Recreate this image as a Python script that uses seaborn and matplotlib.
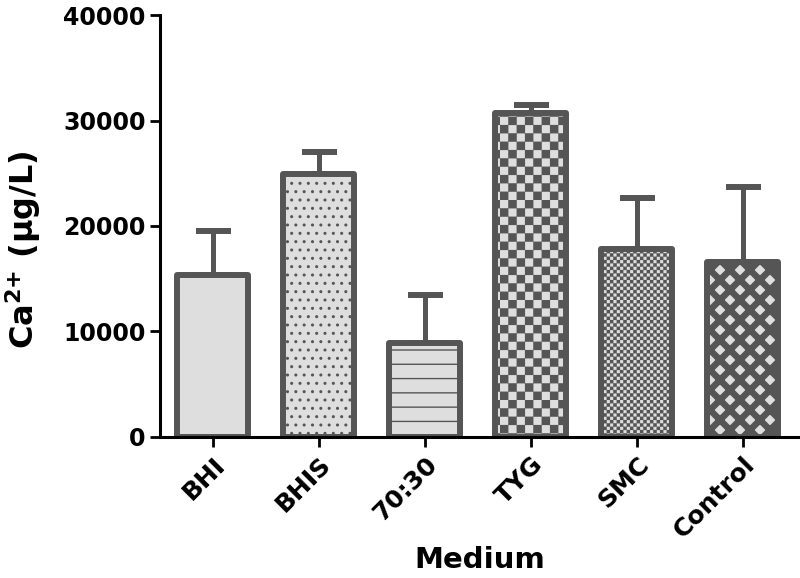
import warnings
import numpy as np
import pandas as pd
import matplotlib
matplotlib.use('Agg')
import matplotlib.pyplot as plt
import matplotlib.hatch as mhatch
from matplotlib.path import Path
import seaborn as sns

warnings.filterwarnings('ignore')

media = ['BHI', 'BHIS', '70:30', 'TYG', 'SMC', 'Control']
ca_mean = [15400, 24900, 8900, 30700, 17800, 16600]
ca_err = [4100, 2100, 4600, 800, 4900, 7100]
bar_hatch = ['', '..', 'h', 'c', 'k', 'd']

EDGE = '#555555'
FILL = '#dedede'


# extra hatch patterns: checkerboards, stripes and a diamond lattice
class Checker(mhatch.HatchPatternBase):
    def __init__(self, hatch, density):
        self.n = hatch.count('c') * density + int(hatch.count('k') * density * 2.5)
        self.num_vertices = self.n * self.n * 2 * 5

    def set_vertices_and_codes(self, vertices, codes):
        n = self.n
        s = 1.0 / (2 * n)
        e = 0.006
        sq = np.array([[e, e], [s - e, e], [s - e, s - e], [e, s - e], [e, e]])
        k = 0
        for i in range(n):
            for j in range(n):
                for d in (0, s):
                    vertices[k:k + 5] = sq + [i / n + d, j / n + d]
                    codes[k:k + 5] = [Path.MOVETO, Path.LINETO, Path.LINETO,
                                      Path.LINETO, Path.CLOSEPOLY]
                    k += 5


class Stripes(mhatch.HatchPatternBase):
    def __init__(self, hatch, density):
        self.n = hatch.count('h') * 7
        self.num_vertices = self.n * 2

    def set_vertices_and_codes(self, vertices, codes):
        y = np.arange(self.n) / self.n + 0.5 / self.n
        vertices[0::2, 0] = 0.0
        vertices[1::2, 0] = 1.0
        vertices[0::2, 1] = y
        vertices[1::2, 1] = y
        codes[0::2] = Path.MOVETO
        codes[1::2] = Path.LINETO


class Diamonds(mhatch.HatchPatternBase):
    def __init__(self, hatch, density):
        self.n = hatch.count('d') * 5
        self.num_vertices = 2 * (2 * self.n + 1) * 5 if self.n else 0

    def set_vertices_and_codes(self, vertices, codes):
        n = self.n
        h = 0.036
        k = 0
        for m in range(-n, n + 1):
            b = m / n
            up = [[-0.1, -0.1 + b - h], [1.1, 1.1 + b - h], [1.1, 1.1 + b + h],
                  [-0.1, -0.1 + b + h], [-0.1, -0.1 + b - h]]
            b2 = 1 + m / n
            dn = [[-0.1, 0.1 + b2 - h], [1.1, -1.1 + b2 - h], [1.1, -1.1 + b2 + h],
                  [-0.1, 0.1 + b2 + h], [-0.1, 0.1 + b2 - h]]
            for poly in (up, dn):
                vertices[k:k + 5] = poly
                codes[k:k + 5] = [Path.MOVETO, Path.LINETO, Path.LINETO,
                                  Path.LINETO, Path.CLOSEPOLY]
                k += 5


mhatch._hatch_types += [Checker, Stripes, Diamonds]

sns.set_style('ticks')
plt.rcParams['font.family'] = ['DejaVu Sans']
plt.rcParams['font.weight'] = 'bold'
plt.rcParams['mathtext.fontset'] = 'dejavusans'
plt.rcParams['mathtext.default'] = 'bf'
plt.rcParams['hatch.linewidth'] = 1.0
plt.rcParams['text.color'] = 'black'
plt.rcParams['axes.labelcolor'] = 'black'
plt.rcParams['xtick.color'] = 'black'
plt.rcParams['ytick.color'] = 'black'

df = pd.DataFrame({'Medium': media, 'Ca': ca_mean})

fig = plt.figure(figsize=(8, 5.78), dpi=100)
ax = fig.add_axes([0.2, 0.244, 0.8, 0.730])

sns.barplot(data=df, x='Medium', y='Ca', order=media, color=FILL, saturation=1,
            edgecolor=EDGE, linewidth=4.3, width=0.67, errorbar=None, ax=ax)
for patch, h in zip(ax.patches, bar_hatch):
    patch.set_hatch(h)
    patch.set_joinstyle('round')
    patch.set_zorder(2)

ax.errorbar(np.arange(len(media)), ca_mean, yerr=[np.zeros(len(media)), ca_err],
            fmt='none', ecolor=EDGE, elinewidth=3.6, capsize=12.6, capthick=4.3,
            zorder=1)

ax.set_ylim(0, 40000)
ax.set_xlim(-0.5, 5.54)
ax.set_yticks([0, 10000, 20000, 30000, 40000])
sns.despine(ax=ax)
for side in ('left', 'bottom'):
    ax.spines[side].set_linewidth(2.2)
    ax.spines[side].set_color('black')
ax.tick_params(axis='both', length=7.2, width=2.0, color='black',
               labelcolor='black', pad=4)
ax.tick_params(axis='y', labelsize=17, pad=3)
ax.tick_params(axis='x', labelsize=18)
plt.setp(ax.get_xticklabels(), rotation=45, ha='right', rotation_mode='anchor',
         fontweight='bold')
plt.setp(ax.get_yticklabels(), fontweight='bold')

ax.set_xlabel('Medium', fontsize=21, fontweight='bold', labelpad=2, color='black')
ax.set_ylabel('Ca$^{2{+}}$ (\u03bcg/L)', fontsize=23, fontweight='bold',
              color='black')
ax.yaxis.set_label_coords(-0.183, 0.445)

fig.savefig('out.png', dpi=100)
